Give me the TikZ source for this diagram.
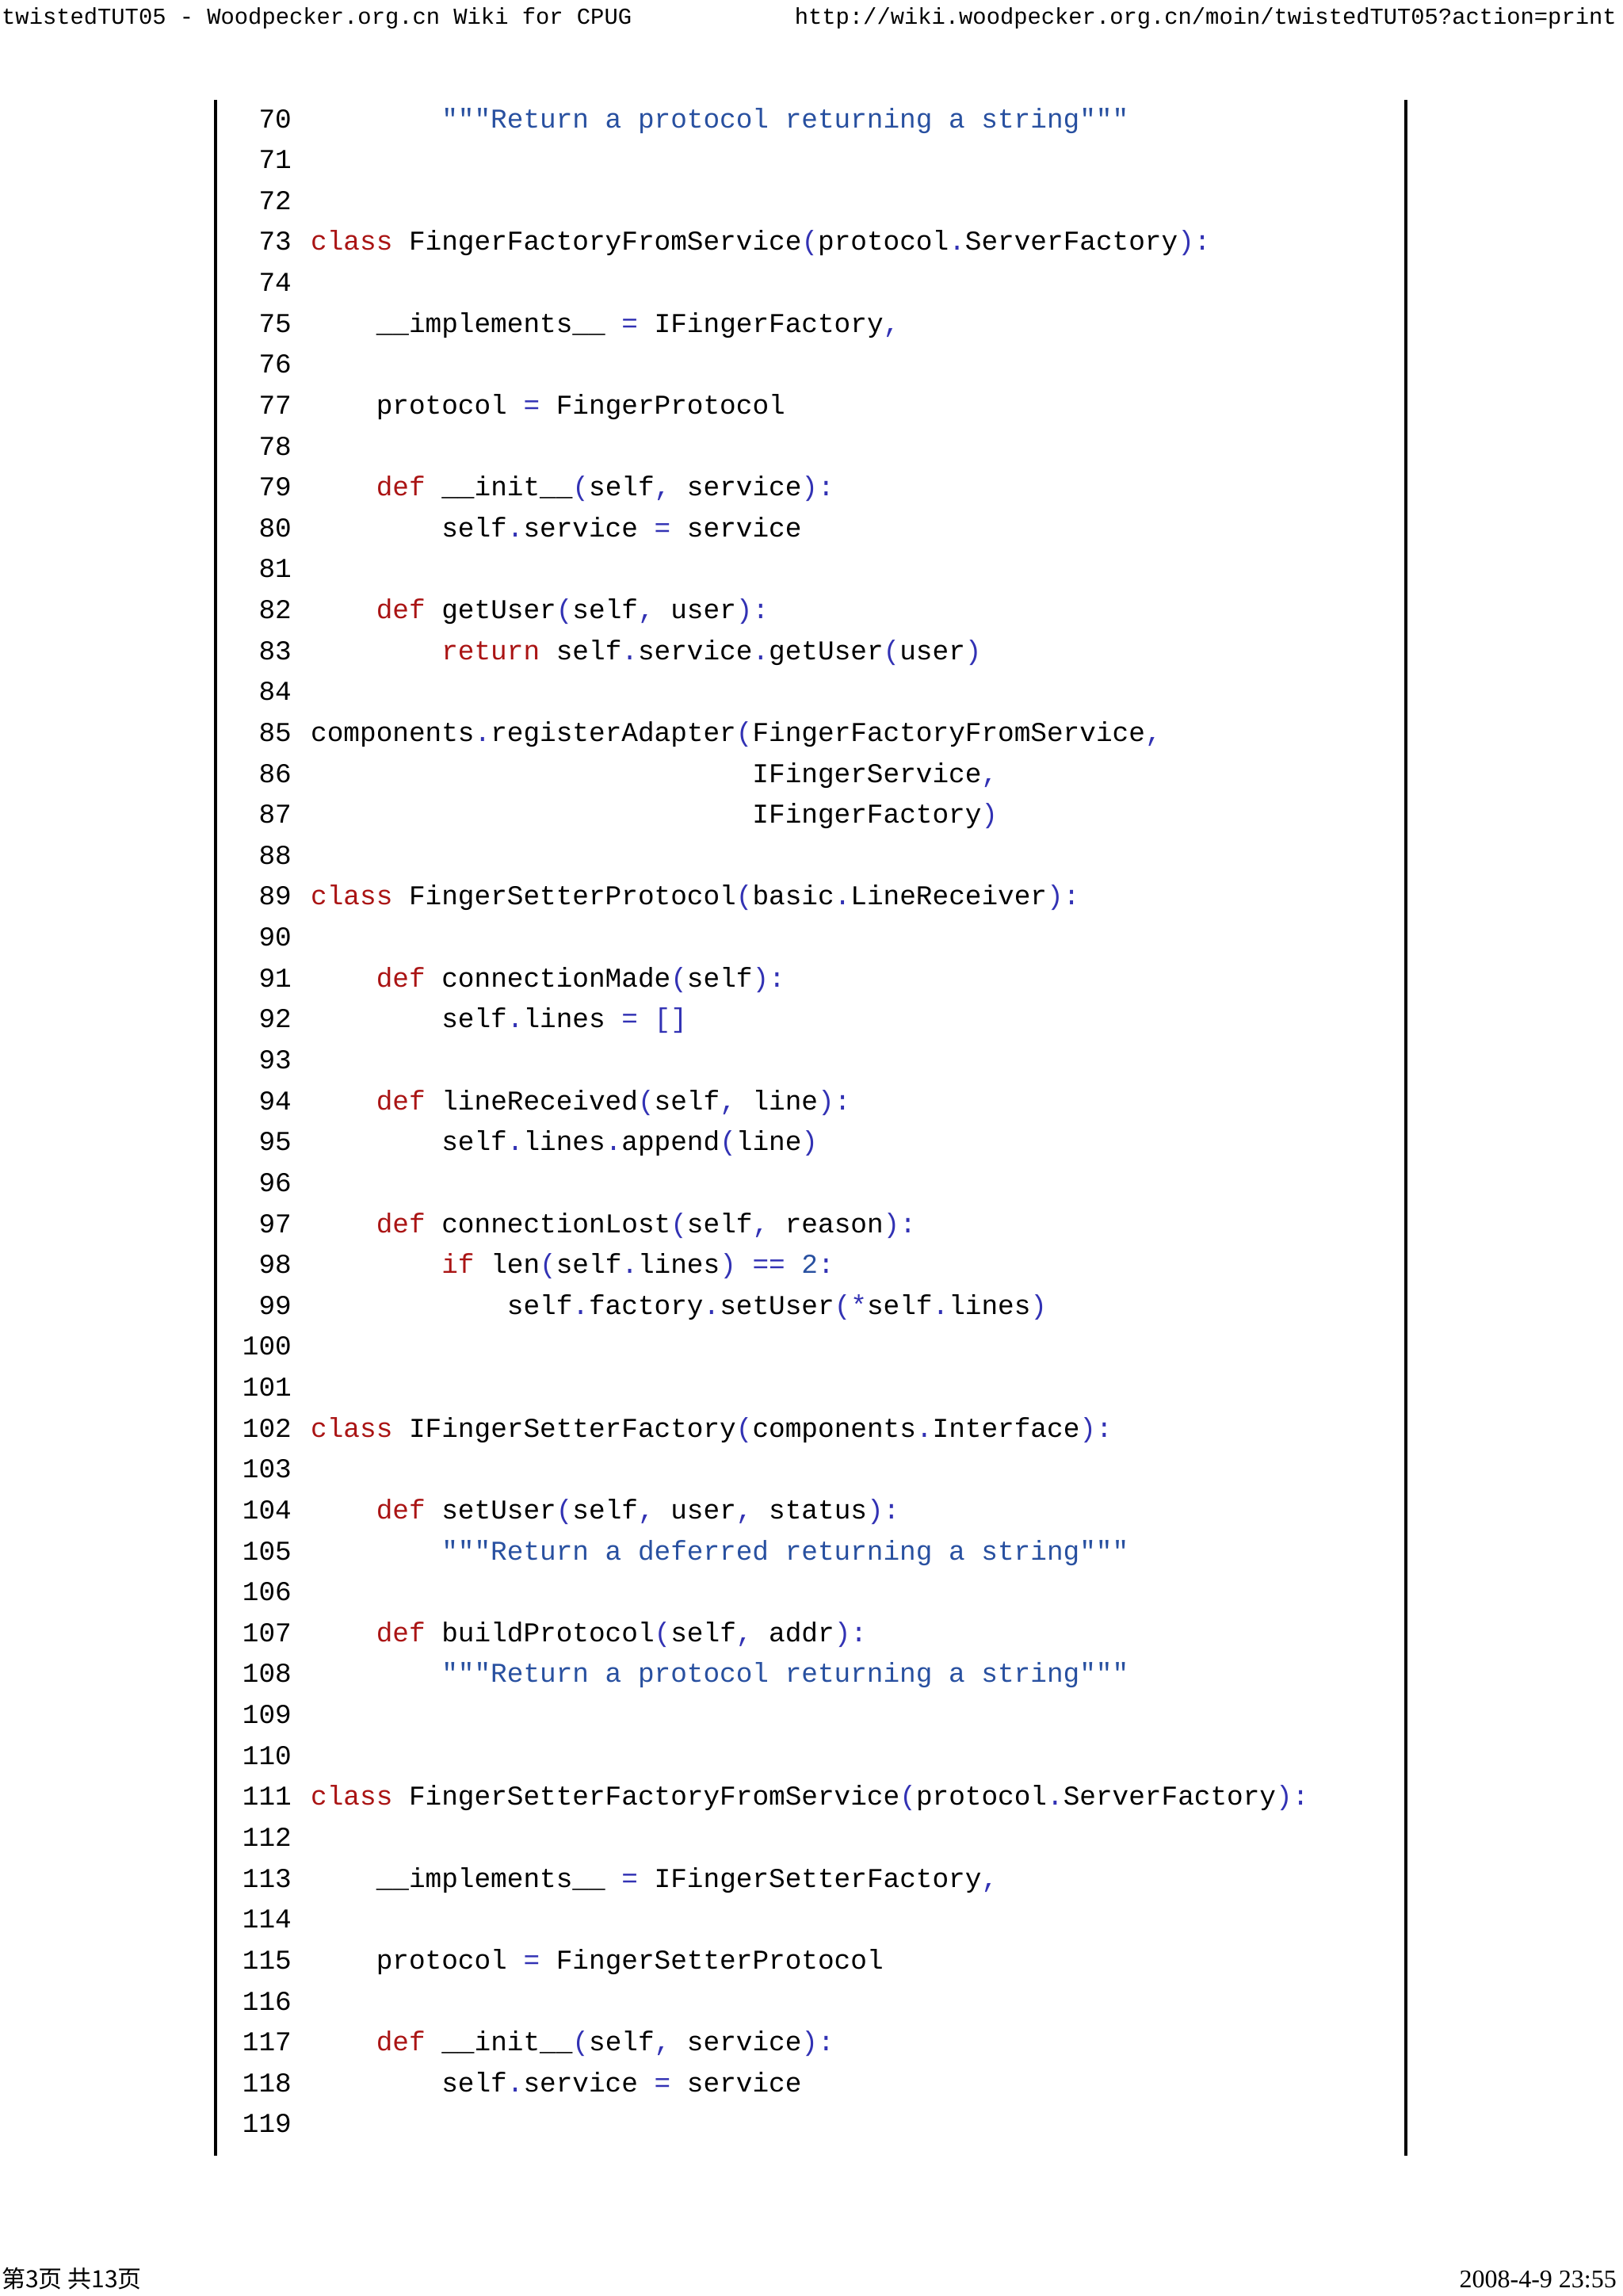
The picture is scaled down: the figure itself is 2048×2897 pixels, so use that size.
\documentclass[tikz,border=0pt]{standalone}
\usepackage{fontspec}
\newfontfamily\codef{Liberation Mono}
\newfontfamily\cjkf{Noto Sans CJK SC}
\setmainfont{Liberation Serif}
\definecolor{kwc}{RGB}{170,20,20}
\definecolor{stc}{RGB}{40,80,160}
\definecolor{opc}{RGB}{50,50,180}
\newcommand\kw[1]{\textcolor{kwc}{#1}}
\newcommand\st[1]{\textcolor{stc}{#1}}
\newcommand\op[1]{\textcolor{opc}{#1}}
\newcommand\code{\codef\fontsize{34.4}{40}\selectfont}
\tikzset{
  lnum/.style={anchor=base east,font=\code,inner sep=0pt},
  cd/.style={anchor=base west,font=\code,inner sep=0pt},
  hdr/.style={font=\codef\fontsize{28.8}{32}\selectfont,inner sep=0pt,anchor=base},
  bar/.style={line width=3.5pt,black}
}
\begin{document}
\begin{tikzpicture}[x=1pt,y=-1pt]
\useasboundingbox (0,0) rectangle (2048,2897);
\fill[white] (0,0) rectangle (2048,2897);
\node[hdr,anchor=base west] (h1) at (2,30) {twistedTUT05 - Woodpecker.org.cn Wiki for CPUG};
\node[hdr,anchor=base east] (h2) at (2040,30) {http://wiki.woodpecker.org.cn/moin/twistedTUT05?action=print};
\coordinate (lt) at (272,126); \coordinate (lb) at (272,2720);
\coordinate (rt) at (1774,126); \coordinate (rb) at (1774,2720);
\draw[bar] (lt) -- (lb);
\draw[bar] (rt) -- (rb);
\foreach \i in {70,...,119}{
  \node[lnum] (n\i) at (368,{161+(\i-70)*51.63}) {\i};
}
\newcommand\cl[3]{\node[cd] (c#1) at ({392+#2*20.64},{161+(#1-70)*51.63}) {#3};}
\cl{70}{8}{\st{"""Return a protocol returning a string"""}}
\cl{73}{0}{\kw{class} FingerFactoryFromService\op{(}protocol\op{.}ServerFactory\op{):}}
\cl{75}{4}{\_\_implements\_\_ \op{=} IFingerFactory\op{,}}
\cl{77}{4}{protocol \op{=} FingerProtocol}
\cl{79}{4}{\kw{def} \_\_init\_\_\op{(}self\op{,} service\op{):}}
\cl{80}{8}{self\op{.}service \op{=} service}
\cl{82}{4}{\kw{def} getUser\op{(}self\op{,} user\op{):}}
\cl{83}{8}{\kw{return} self\op{.}service\op{.}getUser\op{(}user\op{)}}
\cl{85}{0}{components\op{.}registerAdapter\op{(}FingerFactoryFromService\op{,}}
\cl{86}{27}{IFingerService\op{,}}
\cl{87}{27}{IFingerFactory\op{)}}
\cl{89}{0}{\kw{class} FingerSetterProtocol\op{(}basic\op{.}LineReceiver\op{):}}
\cl{91}{4}{\kw{def} connectionMade\op{(}self\op{):}}
\cl{92}{8}{self\op{.}lines \op{=} \op{[]}}
\cl{94}{4}{\kw{def} lineReceived\op{(}self\op{,} line\op{):}}
\cl{95}{8}{self\op{.}lines\op{.}append\op{(}line\op{)}}
\cl{97}{4}{\kw{def} connectionLost\op{(}self\op{,} reason\op{):}}
\cl{98}{8}{\kw{if} len\op{(}self\op{.}lines\op{)} \op{==} \st{2}\op{:}}
\cl{99}{12}{self\op{.}factory\op{.}setUser\op{(*}self\op{.}lines\op{)}}
\cl{102}{0}{\kw{class} IFingerSetterFactory\op{(}components\op{.}Interface\op{):}}
\cl{104}{4}{\kw{def} setUser\op{(}self\op{,} user\op{,} status\op{):}}
\cl{105}{8}{\st{"""Return a deferred returning a string"""}}
\cl{107}{4}{\kw{def} buildProtocol\op{(}self\op{,} addr\op{):}}
\cl{108}{8}{\st{"""Return a protocol returning a string"""}}
\cl{111}{0}{\kw{class} FingerSetterFactoryFromService\op{(}protocol\op{.}ServerFactory\op{):}}
\cl{113}{4}{\_\_implements\_\_ \op{=} IFingerSetterFactory\op{,}}
\cl{115}{4}{protocol \op{=} FingerSetterProtocol}
\cl{117}{4}{\kw{def} \_\_init\_\_\op{(}self\op{,} service\op{):}}
\cl{118}{8}{self\op{.}service \op{=} service}
\node[anchor=base west,inner sep=0pt,font=\cjkf\fontsize{30}{34}\selectfont] (f1) at (2,2886) {第3页 共13页};
\node[anchor=base east,inner sep=0pt,font=\fontsize{32}{36}\selectfont] (f2) at (2040,2886) {2008-4-9 23:55};
\end{tikzpicture}
\end{document}
